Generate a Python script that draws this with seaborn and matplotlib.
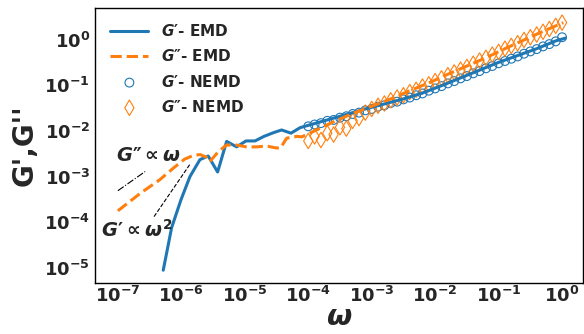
import numpy as np
import pandas as pd
import matplotlib
matplotlib.use("Agg")
import matplotlib.pyplot as plt
import matplotlib.ticker as mticker
import seaborn as sns

# ---------------- data (log10 values) ----------------
gp_emd_logw = [-6.285, -6.153, -6.006, -5.864, -5.707, -5.576, -5.428, -5.286, -5.128,
               -4.981, -4.839, -4.697, -4.550, -4.420, -4.271, -4.129, -3.98, -3.70,
               -3.40, -3.10, -2.80, -2.50, -2.20, -1.90, -1.60, -1.30, -1.00, -0.70,
               -0.40, -0.10, 0.05]
gp_emd_logg = [-5.05, -4.12, -3.51, -3.00, -2.63, -2.55, -2.90, -2.23, -2.35,
               -2.22, -2.22, -2.12, -2.04, -1.98, -2.05, -1.93, -1.87, -1.76,
               -1.64, -1.52, -1.41, -1.30, -1.17, -1.01, -0.84, -0.67, -0.50, -0.35,
               -0.20, -0.03, 0.03]

gpp_emd_logw = [-7.00, -6.65, -6.34, -6.13, -5.95, -5.80, -5.70, -5.60, -5.55, -5.42,
                -5.29, -5.13, -4.97, -4.81, -4.66, -4.52, -4.44, -4.34, -4.18, -4.10,
                -3.90, -3.60, -3.30, -3.00, -2.70, -2.40, -2.10, -1.80, -1.50, -1.20,
                -0.90, -0.60, -0.30, 0.02]
gpp_emd_logg = [-3.75, -3.37, -3.07, -2.82, -2.62, -2.53, -2.52, -2.58, -2.67, -2.46,
                -2.31, -2.31, -2.35, -2.35, -2.33, -2.37, -2.38, -2.16, -2.12, -2.13,
                -2.00, -1.80, -1.62, -1.46, -1.30, -1.12, -0.95, -0.76, -0.58, -0.40,
                -0.20, -0.01, 0.18, 0.37]

nemd_omega = np.logspace(-4, 0, 41)
gp_nemd_logg = [-1.90, -1.86, -1.83, -1.78, -1.76, -1.71, -1.68, -1.63, -1.60, -1.55,
                -1.52, -1.47, -1.44, -1.39, -1.36, -1.31, -1.27, -1.22, -1.18, -1.12,
                -1.07, -1.02, -0.96, -0.91, -0.85, -0.80, -0.74, -0.69, -0.63, -0.58,
                -0.52, -0.47, -0.42, -0.37, -0.31, -0.26, -0.21, -0.15, -0.10, -0.04,
                0.05]
gpp_nemd_logg = [-2.22, -2.12, -2.20, -2.05, -2.08, -1.92, -1.95, -1.78, -1.72, -1.60,
                 -1.52, -1.45, -1.40, -1.33, -1.27, -1.22, -1.15, -1.10, -1.03, -0.98,
                 -0.91, -0.85, -0.78, -0.72, -0.66, -0.60, -0.53, -0.46, -0.40, -0.33,
                 -0.27, -0.20, -0.14, -0.08, -0.01, 0.05, 0.11, 0.17, 0.23, 0.30,
                 0.37]

# guide lines (log10 endpoints)
slope1_logw = [-7.00, -6.57]
slope1_logg = [-3.31, -2.89]
slope2_logw = [-6.43, -5.864]
slope2_logg = [-3.877, -2.731]

x_major = [1e-7, 1e-6, 1e-5, 1e-4, 1e-3, 1e-2, 1e-1, 1e0]
y_major = [1e-5, 1e-4, 1e-3, 1e-2, 1e-1, 1e0]

labels = ["$G\u2032$- EMD", "$G\u2033$- EMD", "$G\u2032$- NEMD", "$G\u2033$- NEMD"]
c_blue = "#1f77b4"
c_orange = "#ff7f0e"

# ---------------- style ----------------
sns.set_style("white")
plt.rcParams.update({
    "font.family": ["DejaVu Sans"],
    "font.weight": "bold",
    "mathtext.fontset": "custom",
    "mathtext.rm": "DejaVu Sans:bold",
    "mathtext.it": "DejaVu Sans:italic:bold",
    "mathtext.bf": "DejaVu Sans:bold",
    "axes.edgecolor": "black",
    "axes.linewidth": 1.0,
})

fig = plt.figure(figsize=(5.84, 3.34), dpi=100)
ax = fig.add_axes([0.1627, 0.1527, 0.9983 - 0.1627, 0.976 - 0.1527])

df_gp = pd.DataFrame({"w": 10 ** np.array(gp_emd_logw), "g": 10 ** np.array(gp_emd_logg)})
df_gpp = pd.DataFrame({"w": 10 ** np.array(gpp_emd_logw), "g": 10 ** np.array(gpp_emd_logg)})
df_n1 = pd.DataFrame({"w": nemd_omega, "g": 10 ** np.array(gp_nemd_logg)})
df_n2 = pd.DataFrame({"w": nemd_omega, "g": 10 ** np.array(gpp_nemd_logg)})

sns.lineplot(data=df_gp, x="w", y="g", ax=ax, color=c_blue, lw=2.2, label=labels[0],
             sort=False, estimator=None)
sns.lineplot(data=df_gpp, x="w", y="g", ax=ax, color=c_orange, lw=2.2, ls="--",
             label=labels[1], sort=False, estimator=None)
sns.scatterplot(data=df_n1, x="w", y="g", ax=ax, marker="o", s=40, facecolor="none",
                edgecolor=c_blue, linewidth=0.8, label=labels[2])
sns.scatterplot(data=df_n2, x="w", y="g", ax=ax, marker="d", s=62, facecolor="none",
                edgecolor=c_orange, linewidth=0.8, label=labels[3])

ax.plot(10 ** np.array(slope1_logw), 10 ** np.array(slope1_logg), color="black",
        ls="-.", lw=0.8)
ax.plot(10 ** np.array(slope2_logw), 10 ** np.array(slope2_logg), color="black",
        ls="--", lw=0.8)

ax.text(10 ** -7.03, 10 ** -2.53, "$G\u2033 \\propto \\omega$", fontsize=14,
        ha="left", va="center")
ax.text(10 ** -7.27, 10 ** -4.17, "$G\u2032 \\propto \\omega^2$", fontsize=14,
        ha="left", va="center")

ax.set_xscale("log")
ax.set_yscale("log")
ax.set_xlim(10 ** -7.36, 10 ** 0.33)
ax.set_ylim(10 ** -5.33, 10 ** 0.69)

ax.xaxis.set_major_locator(mticker.FixedLocator(x_major))
ax.yaxis.set_major_locator(mticker.FixedLocator(y_major))
ax.xaxis.set_major_formatter(mticker.LogFormatterSciNotation())
ax.yaxis.set_major_formatter(mticker.LogFormatterSciNotation())
ax.xaxis.set_minor_locator(mticker.LogLocator(base=10, subs=np.arange(2, 10), numticks=20))
ax.yaxis.set_minor_locator(mticker.LogLocator(base=10, subs=np.arange(2, 10), numticks=20))
ax.xaxis.set_minor_formatter(mticker.NullFormatter())
ax.yaxis.set_minor_formatter(mticker.NullFormatter())

ax.tick_params(which="both", direction="in", labelsize=13)
ax.tick_params(axis="x", which="both", pad=2)
ax.tick_params(which="major", length=4, width=1)
ax.tick_params(which="minor", length=2, width=0.6)
for lab in ax.get_xticklabels() + ax.get_yticklabels():
    lab.set_fontweight("bold")

ax.set_xlabel(r"$\omega$", fontsize=21, labelpad=-2)
ax.set_ylabel("G',G''", fontsize=20, fontweight="bold", labelpad=4)

leg = ax.legend(loc="upper left", frameon=False, fontsize=11, labelspacing=0.6,
                handlelength=2.5, borderaxespad=0.6)
for t in leg.get_texts():
    t.set_fontweight("bold")

fig.savefig("out.png", dpi=100)
